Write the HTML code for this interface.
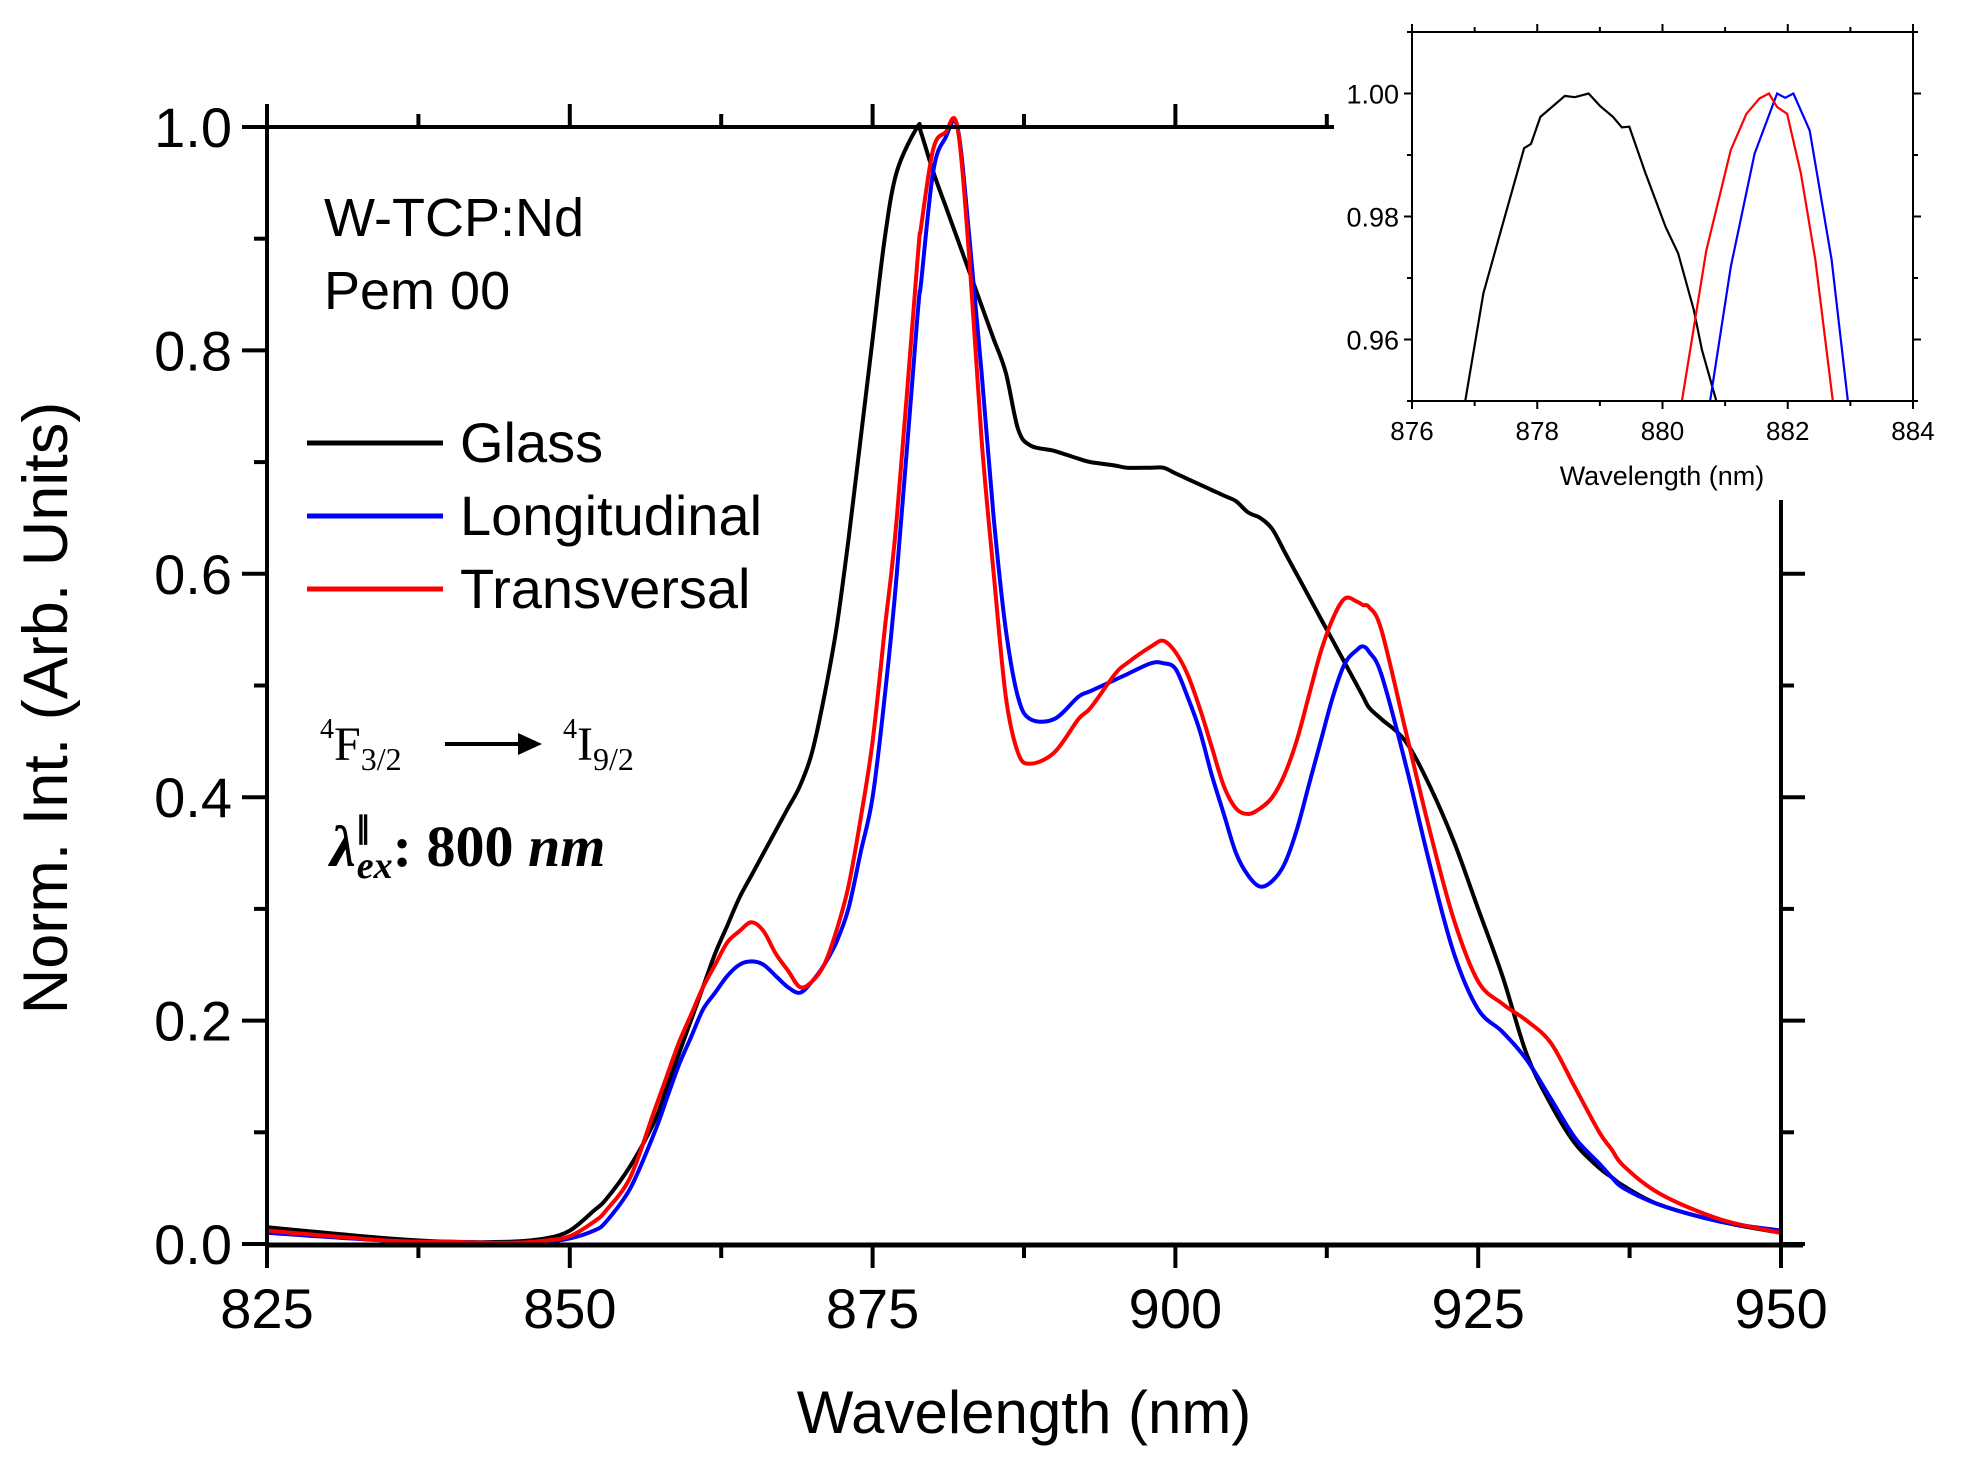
<!DOCTYPE html>
<html><head><meta charset="utf-8"><style>
html,body{margin:0;padding:0;background:#fff}
svg{display:block;font-family:"Liberation Sans",sans-serif}
</style></head><body>
<svg id="chart" width="1964" height="1459" viewBox="0 0 1964 1459" xmlns="http://www.w3.org/2000/svg">
<g id="main"></g>
<g id="inset"></g>
<g>
<text x="324" y="236" font-size="54">W-TCP:Nd</text>
<text x="324" y="309" font-size="54">Pem 00</text>
<line x1="307" y1="443" x2="443" y2="443" stroke="#000" stroke-width="5"/>
<text x="460" y="462" font-size="56">Glass</text>
<line x1="307" y1="516" x2="443" y2="516" stroke="#0000ff" stroke-width="5"/>
<text x="460" y="535" font-size="56">Longitudinal</text>
<line x1="307" y1="589" x2="443" y2="589" stroke="#ff0000" stroke-width="5"/>
<text x="460" y="608" font-size="56">Transversal</text>
<text x="320" y="760" font-size="48" font-family="Liberation Serif,serif"><tspan font-size="28" dy="-22">4</tspan><tspan dy="22">F</tspan><tspan font-size="32" dy="10">3/2</tspan></text>
<line x1="445" y1="744" x2="522" y2="744" stroke="#000" stroke-width="4"/>
<polygon points="542,744 518,733 518,755" fill="#000"/>
<text x="563" y="760" font-size="48" font-family="Liberation Serif,serif"><tspan font-size="28" dy="-22">4</tspan><tspan dy="22">I</tspan><tspan font-size="32" dy="10">9/2</tspan></text>
<text x="330" y="866" font-size="58" font-family="Liberation Serif,serif" font-weight="bold" font-style="italic">λ<tspan font-size="30" dy="-28" font-style="normal">∥</tspan><tspan font-size="38" dx="-14" dy="40">ex</tspan><tspan dy="-12" font-style="normal">: 800 </tspan>nm</text>
</g>
</svg>
<script>
// Main chart data
const mainX = [825,835,840,845,848,850,852,853,855,857,858,859,860,861,862,863,864,865,866,867,868,869,870,871,872,873,874,875,876,877,878.7,879,880,881,882,883,884,885,886,887,888,890,892,893,895,896,898,899,900,901,902,903,904,905,906,907,908,909,910,911,912,913,914,915,915.5,916,917,919,921,923,925,927,929,931,933,935,936,937,940,945,950];
const glassY = [0.015,0.005,0.002,0.002,0.005,0.012,0.03,0.04,0.07,0.11,0.14,0.17,0.2,0.23,0.26,0.285,0.31,0.33,0.35,0.37,0.39,0.41,0.44,0.49,0.55,0.63,0.72,0.81,0.9,0.96,1.0,0.995,0.96,0.93,0.9,0.87,0.84,0.81,0.78,0.73,0.715,0.71,0.703,0.70,0.697,0.695,0.695,0.695,0.69,0.685,0.68,0.675,0.67,0.665,0.655,0.65,0.64,0.62,0.60,0.58,0.56,0.54,0.52,0.50,0.49,0.48,0.47,0.45,0.41,0.36,0.30,0.24,0.17,0.125,0.09,0.068,0.06,0.052,0.035,0.02,0.01];
const longY = [0.01,0.003,0.002,0.001,0.002,0.005,0.012,0.02,0.05,0.1,0.13,0.16,0.185,0.21,0.225,0.24,0.25,0.253,0.25,0.24,0.23,0.225,0.235,0.25,0.27,0.3,0.35,0.4,0.49,0.6,0.83,0.86,0.96,0.99,1.0,0.9,0.78,0.65,0.55,0.49,0.47,0.47,0.49,0.495,0.505,0.51,0.52,0.52,0.515,0.49,0.46,0.42,0.385,0.35,0.33,0.32,0.325,0.34,0.37,0.41,0.45,0.49,0.52,0.532,0.535,0.53,0.51,0.43,0.34,0.26,0.21,0.19,0.165,0.13,0.095,0.072,0.06,0.05,0.035,0.02,0.012];
const transY = [0.012,0.003,0.002,0.001,0.003,0.007,0.02,0.03,0.06,0.12,0.15,0.18,0.205,0.23,0.25,0.27,0.28,0.288,0.28,0.26,0.245,0.23,0.235,0.25,0.28,0.32,0.38,0.45,0.55,0.65,0.88,0.91,0.98,0.995,1.0,0.88,0.72,0.6,0.49,0.44,0.43,0.44,0.47,0.48,0.51,0.52,0.535,0.54,0.53,0.51,0.48,0.445,0.41,0.39,0.385,0.39,0.40,0.42,0.45,0.49,0.53,0.56,0.578,0.575,0.572,0.57,0.55,0.46,0.37,0.29,0.235,0.215,0.2,0.18,0.14,0.1,0.085,0.07,0.045,0.022,0.01];
const mainXTicks = [825,850,875,900,925,950];
const mainYTicks = [0.0,0.2,0.4,0.6,0.8,1.0];
const mainYLabels = ["0.0","0.2","0.4","0.6","0.8","1.0"];

// Inset data
const insetGlassX = [876.85,877.14,877.4,877.79,877.9,878.05,878.2,878.44,878.6,878.82,879.0,879.21,879.35,879.47,879.73,880.05,880.25,880.5,880.63,880.86];
const insetGlassY = [0.95,0.9675,0.977,0.9911,0.9918,0.9962,0.9975,0.9996,0.9994,1.0,0.998,0.9962,0.9945,0.9946,0.987,0.9783,0.974,0.9648,0.9583,0.95];
const insetTransX = [880.31,880.7,881.09,881.34,881.55,881.7,881.83,881.99,882.21,882.44,882.72];
const insetTransY = [0.95,0.9745,0.9908,0.9967,0.9992,1.0,0.9978,0.9967,0.987,0.973,0.95];
const insetLongX = [880.76,881.09,881.47,881.83,881.96,882.09,882.35,882.7,882.96];
const insetLongY = [0.95,0.9718,0.9902,1.0,0.9993,1.0,0.994,0.973,0.95];
const insetXTicks = [876,878,880,882,884];
const insetYTicks = [0.96,0.98,1.00];
const insetYLabels = ["0.96","0.98","1.00"];

const NS="http://www.w3.org/2000/svg";
function mk(parent,tag,attrs){const e=document.createElementNS(NS,tag);for(const k in attrs)e.setAttribute(k,attrs[k]);parent.appendChild(e);return e;}

const mx=v=>267+(v-825)*(1781-267)/125;
const my=v=>1244-v*(1244-127);
const main=document.getElementById('main');
function smoothPath(xs,ys,fx,fy){
  const p=xs.map((x,i)=>[fx(x),fy(ys[i])]);
  let d=`M${p[0][0].toFixed(1)},${p[0][1].toFixed(1)}`;
  for(let i=0;i<p.length-1;i++){
    const p0=p[i-1]||p[i],p1=p[i],p2=p[i+1],p3=p[i+2]||p[i+1];
    const c1=[p1[0]+(p2[0]-p0[0])/6,p1[1]+(p2[1]-p0[1])/6];
    const c2=[p2[0]-(p3[0]-p1[0])/6,p2[1]-(p3[1]-p1[1])/6];
    d+=`C${c1[0].toFixed(1)},${c1[1].toFixed(1)} ${c2[0].toFixed(1)},${c2[1].toFixed(1)} ${p2[0].toFixed(1)},${p2[1].toFixed(1)}`;
  }
  return d;
}
let e;
e=mk(main,'path',{d:smoothPath(mainX,glassY,mx,my),fill:'none',stroke:'#000','stroke-width':4});


e=mk(main,'path',{d:smoothPath(mainX,longY,mx,my),fill:'none',stroke:'#0000ff','stroke-width':4});


e=mk(main,'path',{d:smoothPath(mainX,transY,mx,my),fill:'none',stroke:'#ff0000','stroke-width':4});



e=mk(main,'line',{x1:267,y1:125,x2:267,y2:1246,stroke:'#000','stroke-width':4});


e=mk(main,'line',{x1:265,y1:1245,x2:1803,y2:1245,stroke:'#000','stroke-width':5});


e=mk(main,'line',{x1:242,y1:127,x2:1334,y2:127,stroke:'#000','stroke-width':4});


e=mk(main,'line',{x1:1781,y1:500,x2:1781,y2:1247,stroke:'#000','stroke-width':4});



mainXTicks.forEach((t,i)=>{
  const x=mx(t);
  let l=mk(main,'line',{x1:x,y1:1245,x2:x,y2:1268,stroke:'#000','stroke-width':4});
  
  
  if(x<1334){l=mk(main,'line',{x1:x,y1:127,x2:x,y2:104,stroke:'#000','stroke-width':4});
  
  }
  const tx=mk(main,'text',{x:x,y:1328,'font-size':56,'text-anchor':'middle'});
  tx.textContent=t;
  
  
  if(i<mainXTicks.length-1){
    const xm=mx(t+12.5);
    l=mk(main,'line',{x1:xm,y1:1245,x2:xm,y2:1258,stroke:'#000','stroke-width':4});
    
    
    if(xm<1334){l=mk(main,'line',{x1:xm,y1:127,x2:xm,y2:114,stroke:'#000','stroke-width':4});
    
    }
  }
});
mainYTicks.forEach((t,i)=>{
  const y=my(t);
  let l=mk(main,'line',{x1:242,y1:y,x2:267,y2:y,stroke:'#000','stroke-width':4});
  
  
  if(y>=500){l=mk(main,'line',{x1:1781,y1:y,x2:1805,y2:y,stroke:'#000','stroke-width':4});
  
  }
  const tx=mk(main,'text',{x:232,y:y+20,'font-size':56,'text-anchor':'end'});
  tx.textContent=mainYLabels[i];
  
  
  if(i<mainYTicks.length-1){
    const ym=my(t+0.1);
    l=mk(main,'line',{x1:254,y1:ym,x2:267,y2:ym,stroke:'#000','stroke-width':4});
    
    
    if(ym>=500){l=mk(main,'line',{x1:1781,y1:ym,x2:1794,y2:ym,stroke:'#000','stroke-width':4});
    
    }
  }
});
e=mk(main,'text',{x:1024,y:1433,'font-size':60,'text-anchor':'middle'});
e.textContent='Wavelength (nm)';


e=mk(main,'text',{x:0,y:0,'font-size':63,'text-anchor':'middle',transform:'translate(67,708) rotate(-90)'});
e.textContent='Norm. Int. (Arb. Units)';



const ix=v=>1412+(v-876)*(1913-1412)/8;
const iy=v=>401-(v-0.95)*(401-32)/0.06;
const ins=document.getElementById('inset');
const clip=mk(ins,'clipPath',{id:'ic'});mk(clip,'rect',{x:1412,y:32,width:501,height:369});
const g=mk(ins,'g',{'clip-path':'url(#ic)'});
e=mk(g,'polyline',{points:insetGlassX.map((x,i)=>ix(x)+','+iy(insetGlassY[i])).join(' '),fill:'none',stroke:'#000','stroke-width':2.2});


e=mk(g,'polyline',{points:insetLongX.map((x,i)=>ix(x)+','+iy(insetLongY[i])).join(' '),fill:'none',stroke:'#0000ff','stroke-width':2.2});


e=mk(g,'polyline',{points:insetTransX.map((x,i)=>ix(x)+','+iy(insetTransY[i])).join(' '),fill:'none',stroke:'#ff0000','stroke-width':2.2});


e=mk(ins,'rect',{x:1412,y:32,width:501,height:369,fill:'none',stroke:'#000','stroke-width':2});


insetXTicks.forEach((t,i)=>{
  const x=ix(t);
  let l=mk(ins,'line',{x1:x,y1:401,x2:x,y2:409,stroke:'#000','stroke-width':2});
  
  
  l=mk(ins,'line',{x1:x,y1:32,x2:x,y2:24,stroke:'#000','stroke-width':2});
  
  
  if(i<insetXTicks.length-1){
    const xm=ix(t+1);
    l=mk(ins,'line',{x1:xm,y1:32,x2:xm,y2:27,stroke:'#000','stroke-width':2});
    
    
    l=mk(ins,'line',{x1:xm,y1:401,x2:xm,y2:406,stroke:'#000','stroke-width':2});
    
    
  }
  const tx=mk(ins,'text',{x:x,y:440,'font-size':26,'text-anchor':'middle'});
  tx.textContent=t;
  
  
});
insetYTicks.forEach((t,i)=>{
  const y=iy(t);
  let l=mk(ins,'line',{x1:1404,y1:y,x2:1412,y2:y,stroke:'#000','stroke-width':2});
  
  
  l=mk(ins,'line',{x1:1913,y1:y,x2:1921,y2:y,stroke:'#000','stroke-width':2});
  
  
  const tx=mk(ins,'text',{x:1399,y:y+10,'font-size':27,'text-anchor':'end'});
  tx.textContent=insetYLabels[i];
  
  
});
[0.95,0.97,0.99,1.01].forEach(t=>{
  const y=iy(t);
  let l=mk(ins,'line',{x1:1407,y1:y,x2:1412,y2:y,stroke:'#000','stroke-width':2});
  
  
  l=mk(ins,'line',{x1:1913,y1:y,x2:1918,y2:y,stroke:'#000','stroke-width':2});
  
  
});
e=mk(ins,'text',{x:1662,y:485,'font-size':27,'text-anchor':'middle'});
e.textContent='Wavelength (nm)';


</script>
</body></html>
